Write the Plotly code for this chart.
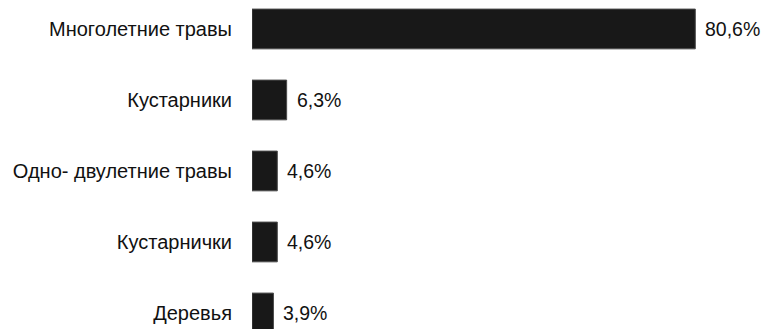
import plotly.graph_objects as go

categories = ["Многолетние травы", "Кустарники", "Одно- двулетние травы", "Кустарнички", "Деревья"]
shares = [80.6, 6.3, 4.6, 4.6, 3.9]
share_labels = ["80,6%", "6,3%", "4,6%", "4,6%", "3,9%"]

FONT = "Liberation Sans"
INK = "#111111"

fig = go.Figure(
    go.Bar(
        x=shares,
        y=categories,
        orientation="h",
        width=0.56,
        marker=dict(color="#181818", line=dict(color="#4a4a4a", width=1)),
        hoverinfo="skip",
    )
)

# value labels just past the end of each bar
for cat, val, lab in zip(categories, shares, share_labels):
    fig.add_annotation(
        x=val, y=cat, text=lab, showarrow=False,
        xanchor="left", yanchor="middle", xshift=8,
        font=dict(family=FONT, size=19.5, color=INK),
    )

fig.update_layout(
    width=766, height=329,
    margin=dict(l=252, r=0, t=0, b=0),
    paper_bgcolor="white", plot_bgcolor="white",
    showlegend=False,
    xaxis=dict(range=[0, 514 / 5.5], visible=False, showgrid=False, zeroline=False),
    yaxis=dict(
        type="category",
        categoryorder="array",
        categoryarray=categories,
        range=[4.226, -0.408],
        showgrid=False, zeroline=False, showline=False,
        ticks="", ticklabelstandoff=19,
        tickfont=dict(family=FONT, size=20, color=INK),
    ),
)

fig.write_html("out.html")
